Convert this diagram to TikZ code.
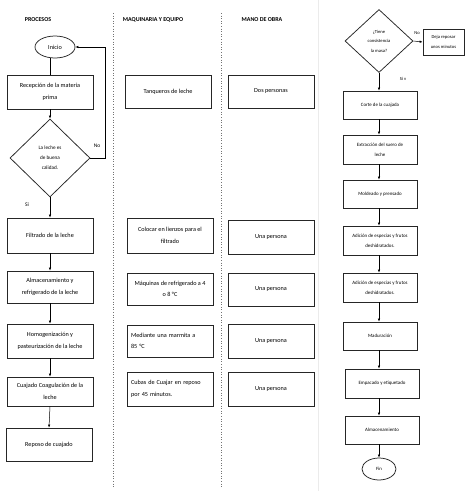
\documentclass[tikz,border=0pt]{standalone}
\usepackage{fontspec}
\setmainfont{Carlito}
\usetikzlibrary{shapes.geometric,arrows.meta}
\begin{document}
\begin{tikzpicture}[x=1pt,y=-1pt,
  box/.style={draw=black!85, line width=0.75pt, rectangle, minimum width=86pt, align=center, inner sep=1pt, font=\fontsize{6.2}{11.5}\selectfont},
  lbox/.style={box, align=left, text width=78pt},
  rbox/.style={draw=black!85, line width=0.75pt, rectangle, minimum width=74pt, align=center, inner sep=1pt, font=\fontsize{4.9}{10}\selectfont},
  title/.style={font=\fontsize{6}{7}\selectfont\bfseries},
  lab/.style={font=\fontsize{5.5}{7}\selectfont},
  rlab/.style={font=\fontsize{4.6}{6}\selectfont},
  arr/.style={-{Latex[length=3pt,width=2.4pt]}, line width=0.5pt},
  con/.style={line width=0.5pt},
  sep/.style={dotted, draw=black!55, line width=0.6pt}
]
\fill[white] (0,0) rectangle (474,491);
\useasboundingbox (0,0) rectangle (474,491);

% separators
\draw[sep] (113,13) -- (113,488);
\draw[sep] (221,13) -- (221,488);
\draw[draw=black!8, line width=0.6pt] (318,0) -- (318,491);

% titles
\node[title] (t1) at (38,20) {PROCESOS};
\node[title] (t2) at (153,20) {MAQUINARIA Y EQUIPO};
\node[title] (t3) at (262,20) {MANO DE OBRA};

% left column
\node[ellipse, draw=black!85, line width=0.75pt, minimum width=40pt, minimum height=22pt, inner sep=0pt, font=\fontsize{6.2}{8}\selectfont] (ini) at (55,47) {Inicio};
\node[box, minimum height=34pt] (rec) at (50,92) {Recepción de la materia\\prima};
\node[diamond, draw=black!85, line width=0.75pt, minimum width=80pt, minimum height=78pt, inner sep=0pt, align=center, font=\fontsize{5.2}{10}\selectfont] (d1) at (50,158) {La leche es\\de buena\\calidad.};
\node[box, minimum height=35pt] (fil) at (50,235.5) {Filtrado de la leche};
\node[box, minimum height=32pt] (alm) at (50,287) {Almacenamiento y\\refrigerado de la leche};
\node[box, minimum height=34pt] (hom) at (50,341) {Homogenización y\\pasteurización de la leche};
\node[box, minimum height=29pt] (cua) at (50,391.5) {Cuajado Coagulación de la\\leche};
\node[box, minimum height=33pt] (rep) at (49,444.5) {Reposo de cuajado};

\draw[con] (ini.south -| rec.north) -- (rec.north);
\draw[arr] (rec.south) -- (d1.north);
\draw[arr] (d1.south) -- (fil.north);
\draw[arr] (fil.south) -- (alm.north);
\draw[arr] (alm.south) -- (hom.north);
\draw[arr] (hom.south) -- (cua.north);
\draw[arr] (cua.south) -- (rep.north);
\coordinate (lp) at (105,158);
\draw[arr] (d1.east) -- (lp) |- (ini.east);
\node[lab] (no1) at (97,146) {No};
\node[lab] (si1) at (27,205) {Si};

% middle column
\node[box, minimum height=33pt] (tan) at (168,91.5) {Tanqueros de leche};
\node[box, minimum height=35pt] (col) at (170,235.5) {Colocar en lienzos para el\\filtrado};
\node[box, minimum height=32pt] (maq) at (170,289) {Máquinas de refrigerado a 4\\o 8 °C};
\node[lbox, minimum height=32pt] (med) at (170,341) {Mediante una marmita a\\85 °C};
\node[lbox, minimum height=34pt] (cub) at (170,389) {Cubas de Cuajar en reposo\\por 45 minutos.};

% right column (mano de obra)
\node[box, minimum height=33pt] (dos) at (271,91.5) {Dos personas};
\node[box, minimum height=34pt] (u1) at (271,237) {Una persona};
\node[box, minimum height=33pt] (u2) at (271,289.5) {Una persona};
\node[box, minimum height=34pt] (u3) at (271,341) {Una persona};
\node[box, minimum height=34pt] (u4) at (271,389) {Una persona};

% right panel
\node[diamond, draw=black!85, line width=0.75pt, minimum width=68pt, minimum height=63pt, inner sep=0pt, align=center, font=\fontsize{4.6}{9.5}\selectfont] (d2) at (379,41) {¿Tiene\\consistencia\\la masa?};
\node[rbox, minimum width=41pt, minimum height=26pt, font=\fontsize{4.6}{9.5}\selectfont] (dej) at (443.5,42) {Deja reposar\\unos minutos};
\draw[arr] (d2.east) -- (dej.west);
\node[rlab] (no2) at (417,33) {No};
\node[rlab] (si2) at (403,79) {Si v};

\node[rbox, minimum height=28pt] (cor) at (380,105) {Corte de la cuajada};
\node[rbox, minimum height=29pt] (ext) at (380,149.5) {Extracción del suero de\\leche};
\node[rbox, minimum height=28pt] (mol) at (380,194) {Moldeado y prensado};
\node[rbox, minimum height=29pt] (ad1) at (380,240.5) {Adición de especias y frutos\\deshidratados.};
\node[rbox, minimum height=29pt] (ad2) at (380,287.5) {Adición de especias y frutos\\deshidratados.};
\node[rbox, minimum height=28pt] (mad) at (380,336) {Maduración};
\node[rbox, minimum height=29pt] (emp) at (382,383.5) {Empacado y etiquetado};
\node[rbox, minimum height=28pt] (alm2) at (382,430) {Almacenamiento};
\node[ellipse, draw=black!85, line width=0.75pt, minimum width=34pt, minimum height=22pt, inner sep=0pt, font=\fontsize{4.8}{6}\selectfont] (fin) at (379,469) {Fin};

\draw[arr] (d2.south) -- (d2.south |- cor.north);
\draw[arr] (cor.south -| d2.south) -- (ext.north -| d2.south);
\draw[arr] (ext.south -| d2.south) -- (mol.north -| d2.south);
\draw[arr] (mol.south -| d2.south) -- (ad1.north -| d2.south);
\draw[arr] (ad1.south -| d2.south) -- (ad2.north -| d2.south);
\draw[arr] (ad2.south -| d2.south) -- (mad.north -| d2.south);
\draw[arr] (mad.south -| d2.south) -- (emp.north -| d2.south);
\draw[arr] (emp.south -| d2.south) -- (alm2.north -| d2.south);
\draw[arr] (alm2.south -| fin.north) -- (fin.north);
\end{tikzpicture}
\end{document}
